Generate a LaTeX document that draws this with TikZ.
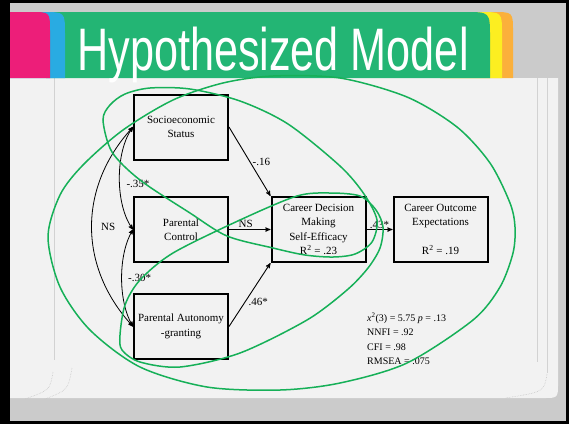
\documentclass[tikz,border=0pt]{standalone}
\usepackage{fontspec}
\setmainfont{Liberation Serif}
\newfontfamily\titlefont{Liberation Sans}
\usetikzlibrary{arrows}

\definecolor{slidegrey}{RGB}{203,203,203}
\definecolor{panelgrey}{RGB}{242,242,242}
\definecolor{titlegreen}{RGB}{35,181,116}
\definecolor{tabpink}{RGB}{237,30,121}
\definecolor{tabblue}{RGB}{41,171,226}
\definecolor{tabyellow}{RGB}{252,238,33}
\definecolor{taborange}{RGB}{251,176,59}
\definecolor{pengreen}{RGB}{22,176,88}

\begin{document}
\begin{tikzpicture}[x=1pt,y=-1pt,>=stealth',
  box/.style={draw,line width=2pt,minimum width=94,minimum height=65,inner sep=1pt,align=center,font=\fontsize{11}{14.5}\selectfont},
  lbl/.style={font=\fontsize{11}{13}\selectfont,inner sep=1.5pt},
  ring/.style={draw=pengreen,line width=1.5pt}]
\useasboundingbox (0,0) rectangle (569,424);

% slide background
\fill[black] (0,0) rectangle (569,424);
\fill[slidegrey] (10,3) rectangle (566,421);
\fill[panelgrey] (10,78) -- (558,78) -- (558,383) .. controls (558,398) .. (543,398) -- (10,398) -- cycle;
\draw[gray!35,line width=0.8pt] (54,78) -- (54,360);
\draw[gray!35,line width=0.8pt] (537,78) -- (537,362);
\draw[gray!35,line width=0.8pt] (547,78) -- (547,373);
\draw[gray!45,densely dotted,line width=0.6pt] (53,372) .. controls (50,390) .. (25,399);
\draw[gray!45,densely dotted,line width=0.6pt] (72,368) .. controls (68,390) .. (45,399);
\draw[gray!45,densely dotted,line width=0.6pt] (547,374) .. controls (544,392) .. (505,398);

% title tabs
\fill[taborange] (440,12) -- (493,12) .. controls (513,12) .. (513,32) -- (513,78) -- (440,78) -- cycle;
\fill[tabyellow] (440,12) -- (480,12) .. controls (502,12) .. (502,34) -- (502,78) -- (440,78) -- cycle;
\fill[titlegreen] (46,12) -- (465,12) .. controls (490,12) .. (490,37) -- (490,78) -- (46,78) -- cycle;
\fill[tabblue] (10,12) -- (43,12) .. controls (65,12) .. (65,34) -- (65,78) -- (10,78) -- cycle;
\fill[tabpink] (10,12) -- (31,12) .. controls (50,12) .. (50,31) -- (50,78) -- (10,78) -- cycle;
\node[font=\titlefont\fontsize{60}{60}\selectfont,text=white,xscale=0.72,transform shape,anchor=base] (title) at (273,70) {Hypothesized Model};

% model boxes
\node[box] (ses) at (181,127) {Socioeconomic\\Status};
\node[box] (pc) at (181,229.5) {Parental\\Control};
\node[box] (pag) at (181,326.5) {Parental Autonomy\\-granting};
\node[box] (cdm) at (318.5,229.5) {Career Decision\\Making\\Self-Efficacy\\R\textsuperscript{2} = .23};
\node[box] (coe) at (440.5,229.5) {Career Outcome\\Expectations\\ \\R\textsuperscript{2} = .19};

% paths
\path[->,line width=0.9pt,every node/.style={lbl}]
  (ses.east) edge node[right=1pt] {-.16} (cdm.north west)
  (pc) edge node[above,pos=0.4] {NS} (cdm)
  (pag.east) edge node[right=2pt,pos=0.38] {.46*} (cdm.south west)
  (cdm) edge node[above,inner sep=0.5pt] {.43*} (coe);

% correlations
\draw[<->,line width=0.8pt] (ses.west) .. controls +(-18,25) and +(-18,-25) .. node[lbl,right=5pt,pos=0.55] {-.35*} (pc.west);
\draw[<->,line width=0.8pt] (pc.west) .. controls +(-15,25) and +(-15,-25) .. node[lbl,right=4.5pt] {-.30*} (pag.west);
\draw[<->,line width=0.8pt] (ses.west) .. controls +(-55,60) and +(-55,-60) .. node[lbl,right=7.5pt] {NS} (pag.west);

% fit indices
\node[anchor=north west,align=left,inner sep=0pt,font=\fontsize{10}{14.3}\selectfont] (fit) at (367,313)
  {\textit{x}\textsuperscript{2}(3) = 5.75 \textit{p} = .13\\NNFI = .92\\CFI = .98\\RMSEA = .075};

% hand-drawn rings
\draw[ring] plot[smooth cycle] coordinates {(48,237) (60,195) (83,165) (123,130) (173,100) (223,83) (273,76) (340,78) (407,97) (457,127) (490,163) (510,203) (515,227) (513,253) (500,287) (473,320) (407,363) (340,383) (280,390) (207,387) (140,367) (90,330) (60,287)};
\draw[ring] plot[smooth cycle] coordinates {(103,120) (110,105) (125,94) (150,88) (190,89) (240,101) (288,124) (340,166) (364,194) (377,220) (372,242) (355,254) (333,257) (305,255) (273,248) (227,236) (190,213) (140,180) (112,152)};
\draw[ring] plot[smooth cycle] coordinates {(120,335) (125,305) (140,280) (173,253) (240,220) (297,196) (330,193) (360,196) (376,210) (383,227) (380,248) (368,268) (347,290) (307,320) (240,353) (180,367) (140,362) (122,350)};
\end{tikzpicture}
\end{document}
